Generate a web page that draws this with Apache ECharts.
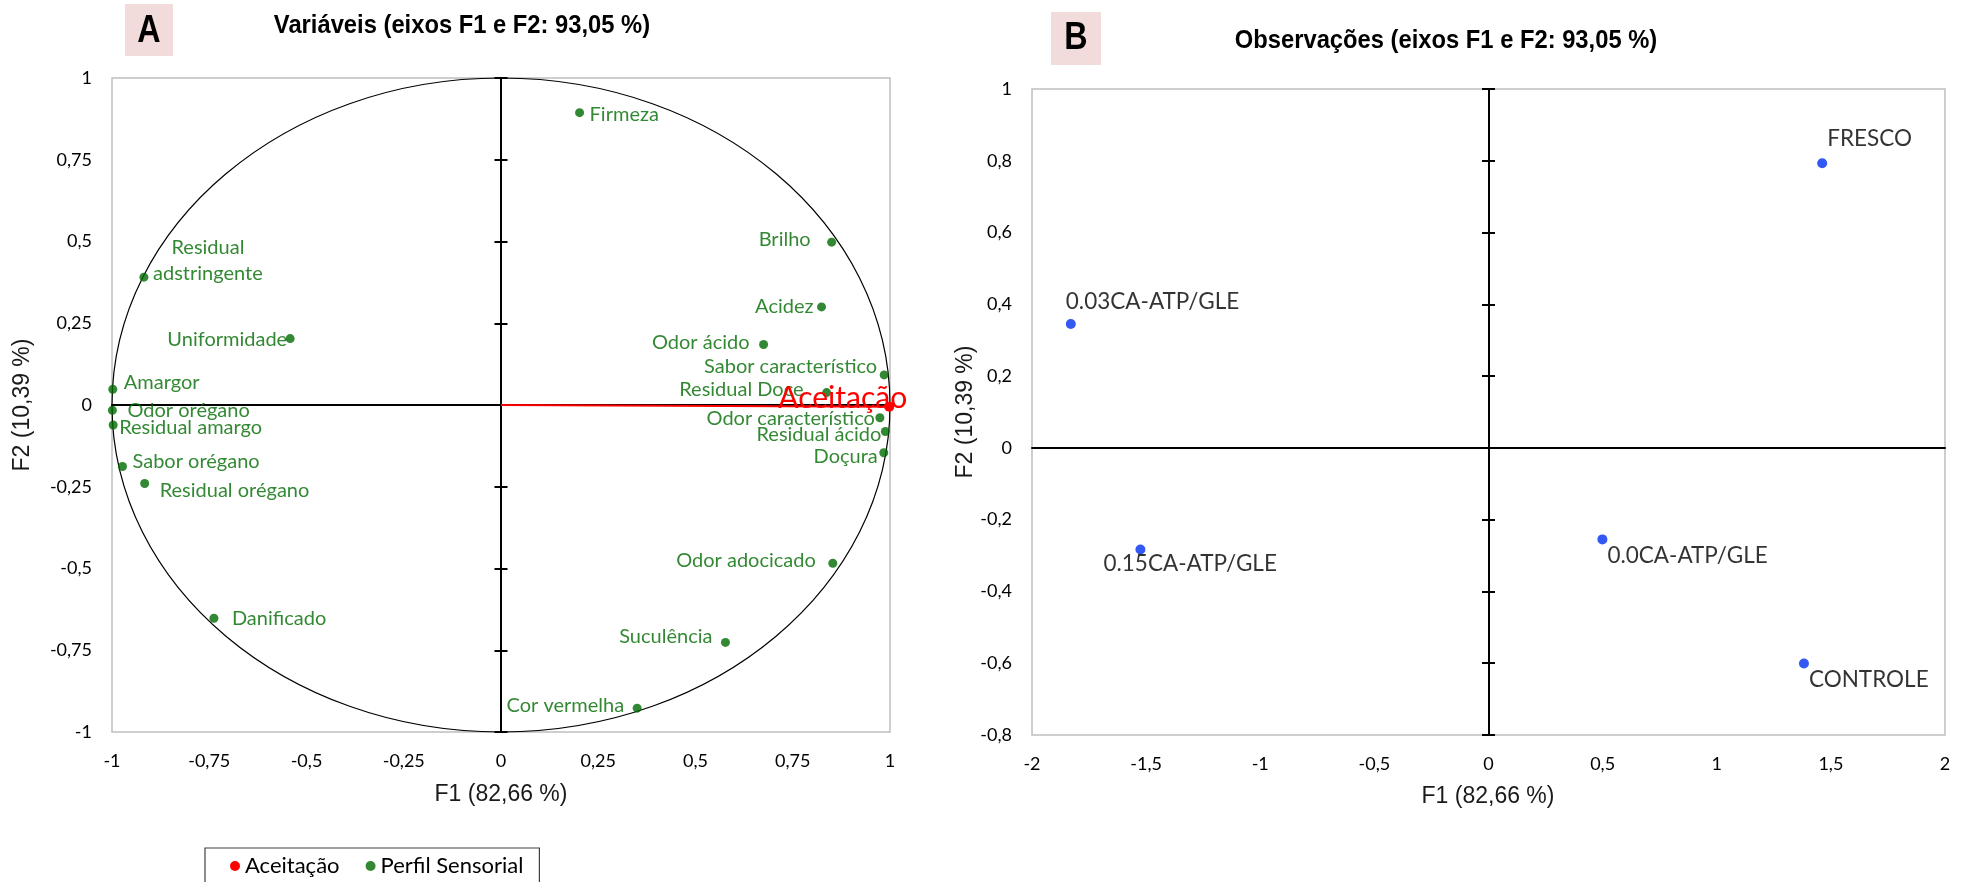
<!DOCTYPE html>
<html>
<head>
<meta charset="utf-8">
<script src="https://cdn.jsdelivr.net/npm/echarts@6/dist/echarts.min.js"></script>
<style>
  html, body { margin: 0; padding: 0; background: #fff; }
  #chart { width: 1966px; height: 882px; }
</style>
</head>
<body>
<div id="chart"></div>
<script>
// ---- Variables (correlation circle, axes F1 / F2) ----
const varNames = ['Firmeza', 'Brilho', 'Acidez', 'Odor ácido', 'Sabor característico', 'Residual Doce',
  'Odor característico', 'Residual ácido', 'Doçura', 'Odor adocicado', 'Suculência', 'Cor vermelha',
  'Residual\nadstringente', 'Uniformidade', 'Amargor', 'Odor orégano', 'Residual amargo',
  'Sabor orégano', 'Residual orégano', 'Danificado'];
const varF1 = [0.202, 0.850, 0.824, 0.675, 0.985, 0.837, 0.974, 0.988, 0.984, 0.853, 0.577, 0.350,
  -0.918, -0.542, -0.998, -0.999, -0.997, -0.973, -0.916, -0.738];
const varF2 = [0.894, 0.498, 0.300, 0.185, 0.092, 0.038, -0.039, -0.081, -0.146, -0.484, -0.726, -0.927,
  0.391, 0.203, 0.048, -0.016, -0.061, -0.188, -0.240, -0.652];

// supplementary variable
const aceitacaoName = 'Aceitação';
const aceitacaoF1 = 0.998;
const aceitacaoF2 = -0.005;

// ---- Observations ----
const obsNames = ['FRESCO', '0.03CA-ATP/GLE', '0.15CA-ATP/GLE', '0.0CA-ATP/GLE', 'CONTROLE'];
const obsF1 = [1.462, -1.830, -1.525, 0.499, 1.382];
const obsF2 = [0.793, 0.345, -0.283, -0.255, -0.601];

// ---- Axis ticks ----
const ticksVarX = [-1, -0.75, -0.5, -0.25, 0, 0.25, 0.5, 0.75, 1];
const ticksVarY = [-1, -0.75, -0.5, -0.25, 0, 0.25, 0.5, 0.75, 1];
const ticksObsX = [-2, -1.5, -1, -0.5, 0, 0.5, 1, 1.5, 2];
const ticksObsY = [-0.8, -0.6, -0.4, -0.2, 0, 0.2, 0.4, 0.6, 0.8, 1];

// label placement: [text align, dx, dy] from the point centre
const labelPosVar = {
  'Firmeza': ['left', 10, 2],
  'Brilho': ['right', -21, -3],
  'Acidez': ['right', -8, 0],
  'Odor ácido': ['right', -14, -2],
  'Sabor característico': ['right', -7, -8],
  'Residual Doce': ['right', -23, -3],
  'Odor característico': ['right', -5, 1],
  'Residual ácido': ['right', -4, 3],
  'Doçura': ['right', -6, 4],
  'Odor adocicado': ['right', -17, -3],
  'Suculência': ['right', -13, -6],
  'Cor vermelha': ['right', -13, -3],
  'Residual\nadstringente': ['center', 64, -17],
  'Uniformidade': ['right', -3, 1],
  'Amargor': ['left', 11, -7],
  'Odor orégano': ['left', 15, 0],
  'Residual amargo': ['left', 6, 3],
  'Sabor orégano': ['left', 10, -5],
  'Residual orégano': ['left', 15, 7],
  'Danificado': ['left', 18, 0]
};
const labelPosObs = {
  'FRESCO': ['left', 5, -25],
  '0.03CA-ATP/GLE': ['left', -5, -22],
  '0.15CA-ATP/GLE': ['left', -37, 14],
  '0.0CA-ATP/GLE': ['left', 5, 16],
  'CONTROLE': ['left', 5, 16]
};

const GREEN = '#006b00';
const BLUE = '#002ef0';
const RED = '#ff0000';
const LABEL_FONT = 'Lato, "Open Sans", sans-serif';
const BOLD_FONT = '"Liberation Sans", Arial, sans-serif';
const ARIAL = '"Liberation Sans", Arial, sans-serif';

const comma = v => String(+v.toFixed(4)).replace('.', ',');

function labelAxis(gridIndex, ticks, dim) {
  return {
    type: 'value', gridIndex,
    min: ticks[0], max: ticks[ticks.length - 1], interval: ticks[1] - ticks[0],
    position: dim === 'x' ? 'bottom' : 'left',
    axisLine: { show: false, onZero: false },
    axisTick: { show: false },
    splitLine: { show: false },
    axisLabel: { margin: 20, fontSize: 18, color: '#000', fontFamily: LABEL_FONT, formatter: comma }
  };
}
function zeroAxis(gridIndex, ticks, dim, tickInside, showTicks) {
  return {
    type: 'value', gridIndex,
    min: ticks[0], max: ticks[ticks.length - 1], interval: ticks[1] - ticks[0],
    position: dim === 'x' ? 'bottom' : 'left',
    axisLine: { show: true, onZero: true, lineStyle: { color: '#000', width: 2 } },
    axisTick: { show: showTicks, inside: tickInside, length: 6.5, lineStyle: { color: '#000', width: 2 } },
    axisLabel: { show: false },
    splitLine: { show: false }
  };
}

const varData = varNames.map((n, i) => {
  const p = labelPosVar[n];
  return {
    name: n, value: [varF1[i], varF2[i]],
    label: { align: p[0], offset: [p[1], p[2]] }
  };
});
const obsData = obsNames.map((n, i) => {
  const p = labelPosObs[n];
  return {
    name: n, value: [obsF1[i], obsF2[i]],
    label: { align: p[0], offset: [p[1], p[2]] }
  };
});

const chart = echarts.init(document.getElementById('chart'), null, { renderer: 'canvas' });

chart.setOption({
  animation: false,
  backgroundColor: '#fff',
  grid: [
    { left: 112, top: 78, width: 778, height: 654, show: true, borderColor: '#bfbfbf', borderWidth: 1.5, backgroundColor: 'transparent' },
    { left: 1032, top: 89, width: 913, height: 646, show: true, borderColor: '#bfbfbf', borderWidth: 1.5, backgroundColor: 'transparent' }
  ],
  xAxis: [
    labelAxis(0, ticksVarX, 'x'),
    zeroAxis(0, ticksVarX, 'x', false, false),
    labelAxis(1, ticksObsX, 'x'),
    zeroAxis(1, ticksObsX, 'x', false, false)
  ],
  yAxis: [
    labelAxis(0, ticksVarY, 'y'),
    zeroAxis(0, ticksVarY, 'y', false, true),
    zeroAxis(0, ticksVarY, 'y', true, true),
    labelAxis(1, ticksObsY, 'y'),
    zeroAxis(1, ticksObsY, 'y', false, true),
    zeroAxis(1, ticksObsY, 'y', true, true)
  ],
  legend: {
    data: [{ name: aceitacaoName, icon: 'circle' }, { name: 'Perfil Sensorial', icon: 'circle' }],
    left: 205, top: 848,
    itemWidth: 10, itemHeight: 10, itemGap: 26,
    padding: [7, 16, 24, 25],
    borderColor: '#404040', borderWidth: 1.2,
    selectedMode: false,
    textStyle: { fontSize: 22, color: '#000', fontFamily: LABEL_FONT }
  },
  series: [
    {
      // unit correlation circle
      type: 'custom', xAxisIndex: 0, yAxisIndex: 0, silent: true, clip: false,
      data: [[0, 0]],
      renderItem: (params, api) => {
        const c = api.coord([0, 0]);
        const s = api.size([1, 1]);
        return {
          type: 'ellipse',
          shape: { cx: c[0], cy: c[1], rx: s[0], ry: s[1] },
          style: { stroke: '#000', fill: null, lineWidth: 1.2 }
        };
      },
      z: 1
    },
    {
      name: aceitacaoName, type: 'line', xAxisIndex: 0, yAxisIndex: 0,
      data: [
        { value: [0, 0], symbol: 'none' },
        { value: [aceitacaoF1, aceitacaoF2], name: aceitacaoName,
          label: { show: true, position: 'inside', align: 'right', verticalAlign: 'middle', offset: [18, -8],
            formatter: '{b}', color: RED, fontSize: 30, fontFamily: LABEL_FONT } }
      ],
      symbol: 'circle', symbolSize: 10, showAllSymbol: true,
      itemStyle: { color: RED },
      lineStyle: { color: RED, width: 2 },
      z: 4
    },
    {
      name: 'Perfil Sensorial', type: 'scatter', xAxisIndex: 0, yAxisIndex: 0,
      data: varData,
      symbol: 'circle', symbolSize: 9,
      itemStyle: { color: GREEN },
      label: {
        show: true, position: 'inside', verticalAlign: 'middle', formatter: '{b}',
        color: GREEN, fontSize: 20, fontFamily: LABEL_FONT, lineHeight: 26
      },
      z: 3
    },
    {
      name: 'Observações', type: 'scatter', xAxisIndex: 2, yAxisIndex: 3,
      data: obsData,
      symbol: 'circle', symbolSize: 10,
      itemStyle: { color: BLUE },
      label: {
        show: true, position: 'inside', verticalAlign: 'middle', formatter: '{b}',
        color: '#000', fontSize: 22.5, fontFamily: LABEL_FONT
      },
      z: 3
    }
  ],
  graphic: [
    { type: 'rect', shape: { x: 125, y: 4, width: 48, height: 52 }, style: { fill: '#f2dcdb' } },
    { type: 'text', x: 149, y: 32, scaleX: 0.85, style: { text: 'A', font: 'bold 38px ' + BOLD_FONT, fill: '#000', align: 'center', verticalAlign: 'middle' } },
    { type: 'rect', shape: { x: 1051, y: 12, width: 50, height: 53 }, style: { fill: '#f2dcdb' } },
    { type: 'text', x: 1076, y: 39, scaleX: 0.85, style: { text: 'B', font: 'bold 38px ' + BOLD_FONT, fill: '#000', align: 'center', verticalAlign: 'middle' } },
    { type: 'text', x: 462, y: 26, scaleX: 0.95, style: { text: 'Variáveis (eixos F1 e F2: 93,05 %)', font: 'bold 25px ' + BOLD_FONT, fill: '#000', align: 'center', verticalAlign: 'middle' } },
    { type: 'text', x: 1446, y: 41, scaleX: 0.95, style: { text: 'Observações (eixos F1 e F2: 93,05 %)', font: 'bold 25px ' + BOLD_FONT, fill: '#000', align: 'center', verticalAlign: 'middle' } },
    { type: 'text', x: 501, y: 795, style: { text: 'F1 (82,66 %)', font: '23px ' + ARIAL, fill: '#1a1a1a', align: 'center', verticalAlign: 'middle' } },
    { type: 'text', x: 1488, y: 797, style: { text: 'F1 (82,66 %)', font: '23px ' + ARIAL, fill: '#1a1a1a', align: 'center', verticalAlign: 'middle' } },
    { type: 'text', x: 23, y: 405, rotation: Math.PI / 2, style: { text: 'F2 (10,39 %)', font: '23px ' + ARIAL, fill: '#1a1a1a', align: 'center', verticalAlign: 'middle' } },
    { type: 'text', x: 966, y: 412, rotation: Math.PI / 2, style: { text: 'F2 (10,39 %)', font: '23px ' + ARIAL, fill: '#1a1a1a', align: 'center', verticalAlign: 'middle' } }
  ]
});
</script>
</body>
</html>
